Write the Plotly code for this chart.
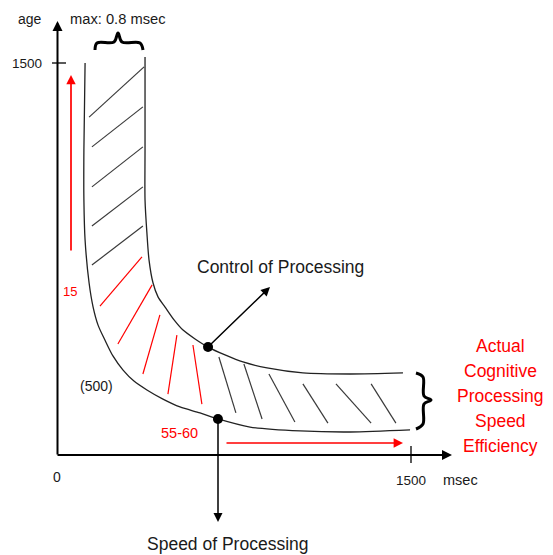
import plotly.graph_objects as go

# ---------------- data (x: msec, y: age) ----------------
speed_msec = [119, 114, 114, 119, 136, 153, 174, 203, 237, 280, 326, 381, 449, 521, 606, 682, 818, 1030, 1242, 1496]
speed_age = [1500, 1167, 976, 823, 658, 566, 497, 440, 379, 325, 283, 249, 214, 184, 161, 138, 107, 92, 88, 96]

control_msec = [373, 373, 373, 381, 390, 407, 428, 458, 496, 534, 585, 640, 712, 788, 890, 1042, 1242, 1466]
control_age = [1523, 1167, 976, 849, 746, 658, 605, 566, 517, 478, 444, 413, 383, 356, 333, 314, 310, 314]

hatch_upper = [(136, 1293, 369, 1485), (148, 1179, 364, 1332), (148, 1026, 364, 1179),
               (148, 876, 364, 1026), (148, 727, 364, 876)]
hatch_red = [(182, 570, 360, 758), (258, 425, 403, 651), (364, 310, 436, 536),
             (470, 233, 508, 459), (614, 195, 576, 421)]
hatch_lower = [(686, 375, 758, 161), (792, 348, 869, 138), (898, 310, 1008, 126),
               (1042, 272, 1148, 122), (1182, 272, 1331, 122), (1331, 272, 1436, 122)]

control_point = (640, 413)
speed_point = (682, 138)

tick_labels = {"x": "1500", "y": "1500", "origin": "0"}
efficiency_lines = ["Actual", "Cognitive", "Processing", "Speed", "Efficiency"]

# ---------------- layout helpers (page pixel -> axis units) ----------------
W, H = 553, 555
PAD = 8  # default body margin of the html page
OX, OY = 57, 455
SX = 1500 / 354
SY = 1500 / 392


def px(x):
    return (x - OX) * SX


def py(y):
    return (OY - y) * SY


FONT = "Liberation Sans, Arial, sans-serif"
BLACK = "#1a1a1a"
RED = "#ff0000"

fig = go.Figure()


def seg_trace(segs, color, width):
    xs, ys = [], []
    for x0, y0, x1, y1 in segs:
        xs += [x0, x1, None]
        ys += [y0, y1, None]
    return go.Scatter(x=xs, y=ys, mode="lines", line=dict(color=color, width=width),
                      hoverinfo="skip", showlegend=False, cliponaxis=False)


fig.add_trace(seg_trace(hatch_upper, "#3a3a3a", 1.2))
fig.add_trace(seg_trace(hatch_red, RED, 1.2))
fig.add_trace(seg_trace(hatch_lower, "#3a3a3a", 1.2))

for xs, ys in [(speed_msec, speed_age), (control_msec, control_age)]:
    fig.add_trace(go.Scatter(x=xs, y=ys, mode="lines",
                             line=dict(color="#222", width=1.3, shape="spline", smoothing=0.8),
                             hoverinfo="skip", showlegend=False, cliponaxis=False))

fig.add_trace(go.Scatter(x=[control_point[0], speed_point[0]], y=[control_point[1], speed_point[1]],
                         mode="markers", marker=dict(color="black", size=10),
                         hoverinfo="skip", showlegend=False, cliponaxis=False))

# braces
brace_right = [(416, 373), (423, 377), (424, 396), (431, 400), (424, 404), (423, 424), (416, 429)]
brace_top = [(95, 50), (97, 43), (114, 42), (118, 33), (122, 42), (140, 43), (143, 50)]
for pts in [brace_right, brace_top]:
    fig.add_trace(go.Scatter(x=[px(p[0]) for p in pts], y=[py(p[1]) for p in pts], mode="lines",
                             line=dict(color="black", width=3, shape="spline", smoothing=1),
                             hoverinfo="skip", showlegend=False, cliponaxis=False))

annotations = []


def arrow(x0, y0, x1, y1, color, width, size):
    annotations.append(dict(x=px(x1), y=py(y1), ax=px(x0), ay=py(y0), xref="x", yref="y",
                            axref="x", ayref="y", text="", showarrow=True, arrowhead=2,
                            arrowwidth=width, arrowsize=size, arrowcolor=color,
                            standoff=0, startstandoff=0))


arrow(57.5, 456, 57.5, 21, "black", 2, 1)
arrow(56, 455, 452, 455, "black", 2, 1)
arrow(208, 347, 270, 287, "black", 1.5, 1.2)
arrow(218, 419, 218, 522, "black", 1.5, 1.2)
arrow(71, 252, 71, 75, RED, 1.7, 1.1)
arrow(225, 443, 403, 443, RED, 1.7, 1.1)


def label(x, y, text, size, color=BLACK):
    annotations.append(dict(x=px(x), y=py(y), xref="x", yref="y", text=text, showarrow=False,
                            xanchor="center", yanchor="middle",
                            font=dict(family=FONT, size=size, color=color)))


label(29.5, 18.5, "age", 14)
label(117.8, 19.2, "max: 0.8 msec", 14.7)
label(26.7, 63.2, tick_labels["y"], 13.5)
label(70.3, 291, "15", 13, RED)
label(96.2, 385.8, "(500)", 14)
label(179.3, 432.8, "55-60", 14.5, RED)
label(280.8, 266.7, "Control of Processing", 17.5)
label(228, 544, "Speed of Processing", 17.5)
label(57.3, 476.7, tick_labels["origin"], 14)
label(410.5, 480.7, tick_labels["x"], 13.5)
label(460.8, 480, "msec", 14.5)
for yy, t in zip([346.3, 371, 396.3, 420.5, 445.5], efficiency_lines):
    label(500, yy, t, 17.5, RED)

shapes = [
    dict(type="line", xref="x", yref="y", x0=px(52), x1=px(66), y0=py(63), y1=py(63),
         line=dict(color="black", width=1.3)),
    dict(type="line", xref="x", yref="y", x0=px(411), x1=px(411), y0=py(446), y1=py(463),
         line=dict(color="black", width=1.3)),
]

fig.update_layout(
    width=W - PAD, height=H - PAD, autosize=False,
    margin=dict(l=0, r=0, t=0, b=0),
    paper_bgcolor="white", plot_bgcolor="white",
    xaxis=dict(range=[px(PAD), px(W)], visible=False, fixedrange=True),
    yaxis=dict(range=[py(H), py(PAD)], visible=False, fixedrange=True),
    annotations=annotations, shapes=shapes, showlegend=False,
)

fig.write_html("out.html")
